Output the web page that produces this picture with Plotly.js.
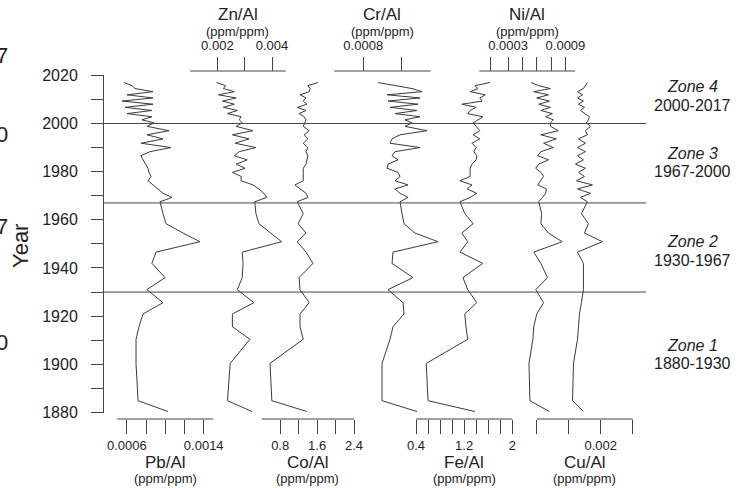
<!DOCTYPE html>
<html>
<head>
<meta charset="utf-8">
<script src="https://cdn.plot.ly/plotly-3.0.1.min.js"></script>
<style>
  html, body { margin: 0; padding: 0; background: #fff; }
  #chart { width: 739px; height: 488px; }
</style>
</head>
<body>
<div id="chart"></div>
<script>
// Sample ages (year AD) of the core slices, top to bottom
const years = [2017, 2015.7, 2014.5, 2013.2, 2011.9, 2010.6, 2009.3, 2008, 2006.7, 2005.4, 2004.1, 2002.8, 2001.5, 2000.3,
  1998.8, 1997, 1995.3, 1993.6, 1991.8, 1990, 1988.3, 1986.6, 1984.9, 1983.1, 1981.4, 1979.7, 1978, 1976.2, 1974.5, 1972.8, 1971, 1969.3, 1967.5,
  1962.6, 1958.4, 1954.5, 1950.9, 1946.6, 1941.9, 1936, 1931,
  1925.6, 1920.9, 1915.6, 1910.4, 1900.4, 1884.9, 1880.4];

// Metal / Al ratios (ppm/ppm) for each slice
const pbAl = [0.00057, 0.000653, 0.000684, 0.000872, 0.000601, 0.000872, 0.000549, 0.000872, 0.00058, 0.000861, 0.000601, 0.000861, 0.000757, 0.000882,
  0.000809, 0.001039, 0.000809, 0.000976, 0.000747, 0.001059, 0.000841, 0.000747, 0.000768, 0.000799, 0.00082, 0.00083, 0.000851, 0.00082, 0.000872, 0.000924, 0.000976, 0.00107, 0.000945,
  0.000976, 0.001007, 0.001185, 0.001361, 0.000903, 0.000861, 0.000997, 0.000809,
  0.000976, 0.000768, 0.000726, 0.000695, 0.000695, 0.000716, 0.001028];
const znAl = [0.00197, 0.0023, 0.00222, 0.00262, 0.00204, 0.00269, 0.00219, 0.00262, 0.00222, 0.00273, 0.00237, 0.00287, 0.0028, 0.00291,
  0.00269, 0.0033, 0.00255, 0.00316, 0.00265, 0.00341, 0.0028, 0.00262, 0.00309, 0.00269, 0.00301, 0.00255, 0.00287, 0.00287, 0.0033, 0.00352, 0.0037, 0.00381, 0.00337,
  0.00341, 0.00352, 0.00395, 0.00435, 0.00291, 0.00294, 0.00291, 0.00273,
  0.00334, 0.00255, 0.00255, 0.00319, 0.00247, 0.00237, 0.00327];
const coAl = [1.62, 1.40, 1.45, 1.43, 1.23, 1.36, 1.30, 1.38, 1.17, 1.36, 1.21, 1.32, 1.36, 1.34,
  1.30, 1.43, 1.32, 1.40, 1.30, 1.40, 1.36, 1.40, 1.38, 1.36, 1.30, 1.30, 1.30, 1.30, 1.12, 1.23, 1.36, 1.40, 1.17,
  1.30, 1.19, 1.36, 1.17, 1.36, 1.51, 1.21, 1.23,
  1.43, 1.23, 1.23, 1.30, 0.58, 0.62, 1.38];
const crAl = [0.000953, 0.00115, 0.001306, 0.00141, 0.001047, 0.001389, 0.001057, 0.001368, 0.001078, 0.001358, 0.00113, 0.001389, 0.001233, 0.001306,
  0.001233, 0.001462, 0.001182, 0.001099, 0.001078, 0.001389, 0.00113, 0.001099, 0.001161, 0.001057, 0.001047, 0.001161, 0.001182, 0.00113, 0.001265, 0.00113, 0.001182, 0.001265, 0.001182,
  0.001202, 0.001223, 0.001337, 0.001576, 0.001109, 0.001099, 0.001316, 0.001057,
  0.001213, 0.001223, 0.001109, 0.001078, 0.000995, 0.000995, 0.001358];
const feAl = [1.63, 1.38, 1.43, 1.30, 1.55, 1.46, 1.50, 1.16, 1.40, 1.30, 1.26, 1.51, 1.43, 1.35,
  1.40, 1.46, 1.35, 1.46, 1.33, 1.40, 1.36, 1.41, 1.40, 1.33, 1.30, 1.30, 1.30, 1.13, 1.33, 1.25, 1.41, 1.30, 1.13,
  1.21, 1.35, 1.16, 1.26, 1.13, 1.51, 1.18, 1.26,
  1.41, 1.21, 1.23, 1.26, 0.57, 0.60, 1.38];
const niAl = [0.000539, 0.000621, 0.000743, 0.000569, 0.000723, 0.0006, 0.000733, 0.000621, 0.000743, 0.000643, 0.000764, 0.000692, 0.000774, 0.000743,
  0.000743, 0.000825, 0.000643, 0.000805, 0.000672, 0.000774, 0.000643, 0.00061, 0.000723, 0.000621, 0.00059, 0.000643, 0.000672, 0.000643, 0.00061, 0.000702, 0.000692, 0.000661, 0.000621,
  0.000651, 0.000643, 0.000723, 0.000866, 0.000569, 0.000643, 0.000713, 0.00059,
  0.000672, 0.0006, 0.000569, 0.00056, 0.000519, 0.000529, 0.000733];
const cuAl = [0.001793, 0.001762, 0.00173, 0.001637, 0.001715, 0.001637, 0.00173, 0.001653, 0.001746, 0.001684, 0.001762, 0.001824, 0.001808, 0.001777,
  0.00184, 0.001762, 0.001793, 0.001653, 0.001762, 0.001637, 0.001762, 0.001637, 0.00173, 0.001606, 0.001762, 0.001653, 0.001746, 0.001621, 0.001871, 0.001637, 0.00184, 0.001684, 0.001793,
  0.001699, 0.001808, 0.001746, 0.002026, 0.001637, 0.00173, 0.00173, 0.00173,
  0.001699, 0.001668, 0.001653, 0.001637, 0.001575, 0.001559, 0.00173];

// Chronological zones
const zoneBounds = [2000, 1967, 1930];
const zoneNames = ['Zone 4', 'Zone 3', 'Zone 2', 'Zone 1'];
const zoneSpans = ['2000-2017', '1967-2000', '1930-1967', '1880-1930'];

// Tick labels of the year axis
const yearTicks = [1880, 1900, 1920, 1940, 1960, 1980, 2000, 2020];

const W = 739, H = 488;
const FONT = 'Liberation Sans, Arial, Helvetica, sans-serif';
const INK = '#222';
const LINE = '#444';
const BOTTOM_Y = 419, TOP_Y = 71;     // pixel rows of the two rows of ratio axes
const YAX = { left: 103, top: 75.3, bottom: 412.5 };

// Each ratio gets its own horizontal scale: value span [lo, hi] drawn over pixels [p0, p1]
const panels = [
  { name: 'Pb/Al', values: pbAl, lo: 0.0005, hi: 0.0015, p0: 117.3, p1: 213.3, side: 'bottom',
    tickvals: [0.0006, 0.0008, 0.0010, 0.0012, 0.0014], ticktext: ['0.0006', '', '', '', '0.0014'] },
  { name: 'Zn/Al', values: znAl, lo: 0.001, hi: 0.0045, p0: 190, p1: 285.7, side: 'top',
    tickvals: [0.002, 0.003, 0.004], ticktext: ['0.002', '', '0.004'] },
  { name: 'Co/Al', values: coAl, lo: 0.4, hi: 2.4, p0: 261.7, p1: 354, side: 'bottom',
    tickvals: [0.8, 1.2, 1.6, 2.0, 2.4], ticktext: ['0.8', '', '1.6', '', '2.4'] },
  { name: 'Cr/Al', values: crAl, lo: 0.0005, hi: 0.0015, p0: 334.3, p1: 430.7, side: 'top',
    tickvals: [0.0008, 0.0012], ticktext: ['0.0008', ''] },
  { name: 'Fe/Al', values: feAl, lo: 0.4, hi: 2.0, p0: 416, p1: 512.3, side: 'bottom',
    tickvals: [0.4, 0.6, 0.8, 1.0, 1.2, 1.4, 1.6, 1.8, 2.0], ticktext: ['0.4', '', '', '', '1.2', '', '', '', '2'] },
  { name: 'Ni/Al', values: niAl, lo: 0.0, hi: 0.001, p0: 479.3, p1: 575, side: 'top',
    tickvals: [0.00012, 0.0003, 0.00045, 0.0006, 0.00075, 0.0009], ticktext: ['', '0.0003', '', '', '', '0.0009'] },
  { name: 'Cu/Al', values: cuAl, lo: 0.001, hi: 0.0025, p0: 536.7, p1: 632.7, side: 'bottom',
    tickvals: [0.001, 0.0015, 0.002, 0.0025], ticktext: ['', '', '0.002', ''] }
];

const px2x = p => p / W;
const px2y = p => 1 - p / H;

const traces = [];
const shapes = [];
const annotations = [];
const layout = {
  width: W, height: H,
  margin: { l: 0, r: 0, t: 0, b: 0, pad: 0 },
  paper_bgcolor: '#fff', plot_bgcolor: 'rgba(0,0,0,0)',
  showlegend: false,
  font: { family: FONT, color: INK, size: 13 },
  yaxis: {
    domain: [px2y(YAX.bottom), px2y(YAX.top)],
    range: [1880, 2020],
    anchor: 'free', position: px2x(YAX.left),
    showline: true, linecolor: LINE, linewidth: 1,
    showgrid: false, zeroline: false,
    ticks: 'outside', ticklen: 12, tickwidth: 1, tickcolor: LINE,
    tickmode: 'array', tickvals: yearTicks,
    tickfont: { size: 16, family: FONT, color: INK },
    ticklabelstandoff: 10,
    minor: { tickmode: 'linear', tick0: 1880, dtick: 10, ticks: 'outside', ticklen: 12, tickwidth: 1, tickcolor: LINE },
    fixedrange: true
  }
};

panels.forEach((p, i) => {
  const key = i === 0 ? 'x' : 'x' + (i + 1);
  const axName = i === 0 ? 'xaxis' : 'xaxis' + (i + 1);
  const s = (p.hi - p.lo) / (p.p1 - p.p0);
  const rowY = p.side === 'bottom' ? BOTTOM_Y : TOP_Y;
  const ax = {
    domain: [0, 1],
    range: [p.lo - p.p0 * s, p.lo + (W - p.p0) * s],
    anchor: 'free', position: px2y(rowY), side: p.side,
    showline: false, showgrid: false, zeroline: false,
    ticks: 'outside', ticklen: 14, tickwidth: 1, tickcolor: LINE,
    tickmode: 'array', tickvals: p.tickvals, ticktext: p.ticktext,
    tickfont: { size: 13, family: FONT, color: INK },
    ticklabelstandoff: p.side === 'bottom' ? 0 : 2,
    fixedrange: true
  };
  if (i > 0) ax.overlaying = 'x';
  layout[axName] = ax;

  traces.push({
    type: 'scatter', mode: 'lines', name: p.name,
    x: p.values, y: years, xaxis: key, yaxis: 'y',
    line: { color: '#3a3a3a', width: 1 },
    hoverinfo: 'skip'
  });

  // axis base line spanning the scale of this ratio
  shapes.push({
    type: 'line', xref: key, yref: 'paper',
    x0: p.lo, x1: p.hi, y0: px2y(rowY), y1: px2y(rowY),
    line: { color: LINE, width: 1 }
  });

  // ratio name and unit
  const cx = (p.p0 + p.p1) / 2;
  const titleY = p.side === 'bottom' ? 462 : 15;
  const unitY = p.side === 'bottom' ? 478 : 31.5;
  annotations.push({
    xref: 'paper', yref: 'paper', x: px2x(cx), y: px2y(titleY),
    xanchor: 'center', yanchor: 'middle', showarrow: false,
    text: p.name, font: { size: 17, family: FONT, color: INK }
  });
  annotations.push({
    xref: 'paper', yref: 'paper', x: px2x(cx), y: px2y(unitY),
    xanchor: 'center', yanchor: 'middle', showarrow: false,
    text: '(ppm/ppm)', font: { size: 13, family: FONT, color: INK }
  });
});

// zone boundaries
zoneBounds.forEach(b => {
  shapes.push({
    type: 'line', xref: 'paper', yref: 'y',
    x0: px2x(YAX.left), x1: px2x(646), y0: b, y1: b,
    line: { color: LINE, width: 1 }
  });
});

// zone captions on the right
const zoneNameY = [86.7, 153, 241.7, 345];
const zoneSpanY = [105, 171.7, 260, 363];
zoneNames.forEach((z, i) => {
  annotations.push({
    xref: 'paper', yref: 'paper', x: px2x(692), y: px2y(zoneNameY[i]),
    xanchor: 'center', yanchor: 'middle', showarrow: false,
    text: '<i>' + z + '</i>', font: { size: 16, family: FONT, color: INK }
  });
  annotations.push({
    xref: 'paper', yref: 'paper', x: px2x(692), y: px2y(zoneSpanY[i]),
    xanchor: 'center', yanchor: 'middle', showarrow: false,
    text: zoneSpans[i], font: { size: 16, family: FONT, color: INK }
  });
});

// year axis title
annotations.push({
  xref: 'paper', yref: 'paper', x: px2x(21), y: px2y(246),
  xanchor: 'center', yanchor: 'middle', showarrow: false, textangle: -90,
  text: 'Year', font: { size: 22, family: FONT, color: INK }
});

// trailing characters of the neighbouring panel's captions at the left edge
const edgeChars = ['7', '0', '7', '0'];
const edgeY = [55, 134.5, 226, 342];
edgeChars.forEach((c, i) => {
  annotations.push({
    xref: 'paper', yref: 'paper', x: px2x(10), y: px2y(edgeY[i]),
    xanchor: 'right', yanchor: 'middle', showarrow: false,
    text: c, font: { size: 22, family: FONT, color: INK }
  });
});

layout.shapes = shapes;
layout.annotations = annotations;

Plotly.newPlot('chart', traces, layout, { staticPlot: true, displayModeBar: false });
</script>
</body>
</html>
